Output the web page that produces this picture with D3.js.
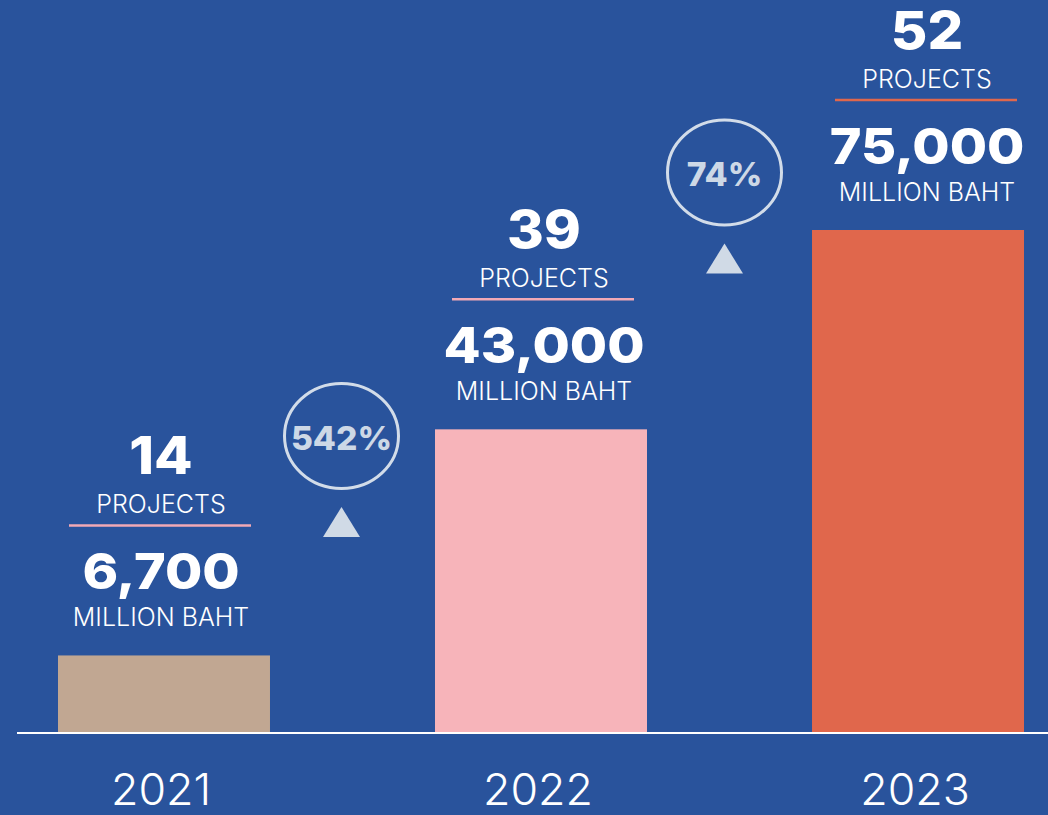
<!DOCTYPE html>
<html>
<head>
<meta charset="utf-8">
<script src="https://cdn.jsdelivr.net/npm/d3@7"></script>
<style>
  html, body { margin: 0; padding: 0; background: #29539c; overflow: hidden; }
  svg { display: block; }
  text { font-family: Inter, "Open Sans", sans-serif; }
</style>
</head>
<body>
<svg id="chart" width="1048" height="815"></svg>
<script>
// ---- data ----
const years = ["2021", "2022", "2023"];
const projects = [14, 39, 52];
const values = [6700, 43000, 75000];            // million baht
const valueLabels = ["6,700", "43,000", "75,000"];
const growth = ["542%", "74%"];                 // growth between consecutive years
const barColors = ["#c1a792", "#f7b4ba", "#e0674c"];
const ruleColors = ["#f2a9b5", "#f2a9b5", "#e0674c"];

// ---- layout ----
const W = 1048, H = 815;
const baseY = 733;
const stretch = 1.08;     // horizontal stretch of the bold figures seen in the reference
const svg = d3.select("#chart");

svg.append("rect").attr("width", W).attr("height", H).attr("fill", "#29539c");

const x = d3.scaleBand().domain(years).range([-24.5, 1106.5])
  .paddingInner(0.4377).paddingOuter(0.2188);
const xLabel = d3.scalePoint().domain(years).range([161, 927]);
const y = d3.scaleLinear().domain([-5750, 75000]).range([baseY, 230]);

const data = years.map((yr, i) => ({
  year: yr, projects: projects[i], value: values[i],
  label: valueLabels[i], color: barColors[i], rule: ruleColors[i]
}));

// bars
svg.append("g").selectAll("rect").data(data).join("rect")
  .attr("x", d => x(d.year))
  .attr("width", x.bandwidth())
  .attr("y", d => y(d.value))
  .attr("height", d => baseY - y(d.value))
  .attr("fill", d => d.color);

// baseline
svg.append("line").attr("x1", 17).attr("x2", W).attr("y1", baseY).attr("y2", baseY)
  .attr("stroke", "#ffffff").attr("stroke-width", 2);

// year labels
svg.append("g").selectAll("text").data(data).join("text")
  .attr("transform", d => `translate(${x(d.year) + x.bandwidth() / 2 - 3},805) scale(1.04,1)`)
  .attr("text-anchor", "middle")
  .attr("fill", "#ffffff")
  .attr("font-size", 43)
  .attr("font-weight", 300)
  .text(d => d.year);

// label blocks above bars
const blocks = svg.append("g").selectAll("g").data(data).join("g")
  .attr("transform", d => `translate(${xLabel(d.year)},${y(d.value)})`);

function stext(sel, dy, size, weight, sx, txt) {
  sel.append("text")
    .attr("transform", `translate(0,${dy}) scale(${sx},1)`)
    .attr("text-anchor", "middle")
    .attr("fill", "#ffffff")
    .attr("font-size", size)
    .attr("font-weight", weight)
    .text(txt);
}
blocks.each(function (d) {
  const g = d3.select(this);
  stext(g, -181, 52, 800, stretch, d.projects);
  stext(g, -142, 25, 300, 1.0, "PROJECTS");
  g.append("line").attr("x1", -92).attr("x2", 90).attr("y1", -130).attr("y2", -130)
    .attr("stroke", d.rule).attr("stroke-width", 2.5);
  stext(g, -66, 50, 800, stretch, d.label);
  stext(g, -29, 25, 300, 1.0, "MILLION BAHT");
});

// growth badges
const growthCy = [436, 172.5];
const badges = svg.append("g").selectAll("g").data(growth).join("g")
  .attr("transform", (g, i) => {
    const mid = (xLabel(years[i]) + xLabel(years[i + 1])) / 2 - 11;
    return `translate(${mid},${growthCy[i]})`;
  });
badges.append("ellipse").attr("rx", 57).attr("ry", 52.5)
  .attr("fill", "none").attr("stroke", "#d2dce9").attr("stroke-width", 3);
badges.append("text")
  .attr("transform", `translate(0,13.5) scale(1.02,1)`)
  .attr("text-anchor", "middle")
  .attr("fill", "#cdd8e6")
  .attr("font-size", 33)
  .attr("font-weight", 800)
  .text(d => d);
badges.append("path")
  .attr("d", "M0,71 L18.5,101 L-18.5,101 Z")
  .attr("fill", "#d0dae6");
</script>
</body>
</html>
